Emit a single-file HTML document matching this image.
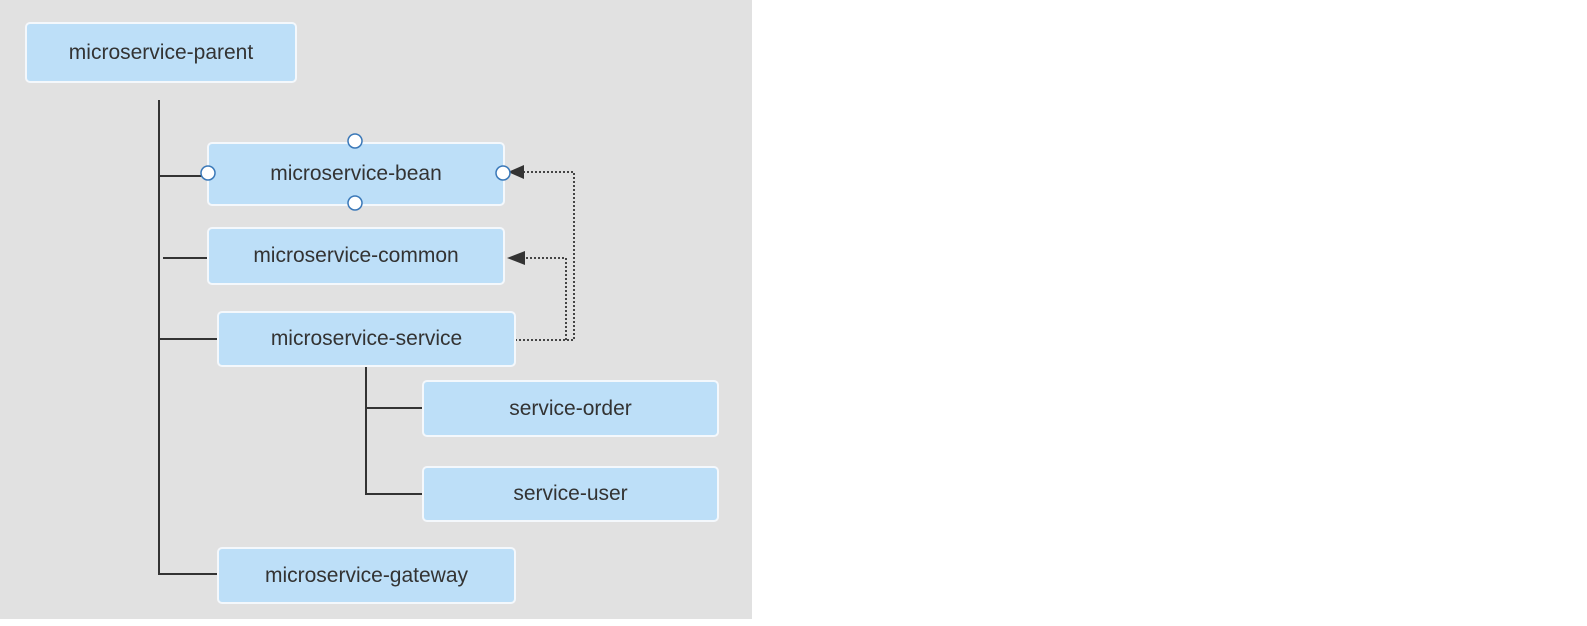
<!DOCTYPE html>
<html><head><style>
body{margin:0;width:1587px;height:626px;background:#fff;position:relative;overflow:hidden;font-family:"Liberation Sans",sans-serif}
.bg{position:absolute;left:0;top:0;width:752px;height:619px;background:#e1e1e1}
.b{position:absolute;background:#bddff8;border:2px solid #f4f8fc;border-radius:5px;box-sizing:border-box;display:flex;align-items:center;justify-content:center;font-size:21px;color:#333}
</style></head><body>
<div class="bg"></div>
<svg width="1587" height="626" style="position:absolute;left:0;top:0">
<g stroke="#333" stroke-width="2" fill="none">
<path d="M159 100V574H218M159 176H208M163 258H208M159 339H218M366 366V494H423M366 408H423"/>
</g>
<g stroke="#444" stroke-width="2" fill="none" stroke-dasharray="2 2">
<path d="M515 340H574V172H522M566 340V258H524"/>
</g>
<polygon points="508,172 524,165 524,179" fill="#333"/>
<polygon points="507,258 525,251 525,265" fill="#333"/>
</svg>
<div class="b" style="left:25px;top:22px;width:272px;height:61px">microservice-parent</div>
<div class="b" style="left:207px;top:142px;width:298px;height:64px">microservice-bean</div>
<div class="b" style="left:207px;top:227px;width:298px;height:58px">microservice-common</div>
<div class="b" style="left:217px;top:311px;width:299px;height:56px">microservice-service</div>
<div class="b" style="left:422px;top:380px;width:297px;height:57px">service-order</div>
<div class="b" style="left:422px;top:466px;width:297px;height:56px">service-user</div>
<div class="b" style="left:217px;top:547px;width:299px;height:57px">microservice-gateway</div>
<svg width="1587" height="626" style="position:absolute;left:0;top:0">
<g fill="#fff" stroke="#3a78b8" stroke-width="1.5">
<circle cx="355" cy="141" r="7"/><circle cx="355" cy="203" r="7"/>
<circle cx="208" cy="173" r="7"/><circle cx="503" cy="173" r="7"/>
</g>
</svg>
</body></html>
